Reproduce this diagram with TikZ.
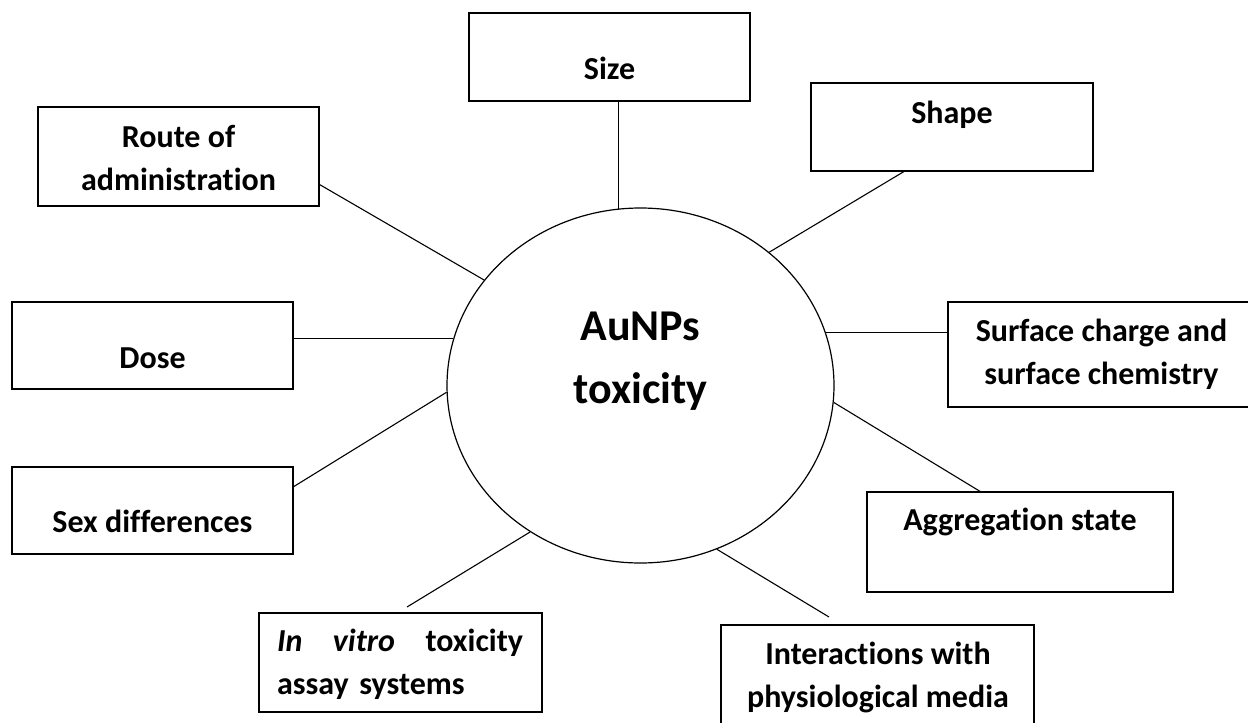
\documentclass[tikz,border=0pt]{standalone}
\usepackage{fontspec}
\setmainfont{Carlito}[Ligatures=NoCommon]
\usetikzlibrary{shapes.geometric,calc}

\begin{document}
\begin{tikzpicture}[x=1pt,y=-1pt,
  factor/.style={draw,line width=1.2pt,rectangle,inner sep=0pt},
  flabel/.style={font=\fontsize{32}{43}\selectfont\bfseries,align=center,anchor=base,inner sep=0pt},
  link/.style={line width=1.1pt}]
\useasboundingbox (0,0) rectangle (1248,723);
\clip (0,0) rectangle (1248,723);

% centre
\node [draw,ellipse,line width=1.2pt,minimum width=387pt,minimum height=355pt,inner sep=0pt] (tox) at (640.5,385.5) {};
\node [font=\fontsize{44}{63}\selectfont\bfseries,align=center,anchor=base,inner sep=0pt] (toxt) at (640.5,403.3) {AuNPs\\toxicity};

% factors (multi-line labels sit on their last baseline)
\node [factor,minimum width=281pt,minimum height=88pt] (size) at (609.5,57) {};
\node [flabel] (sizet) at (609.5,79.3) {Size};
\node [factor,minimum width=282pt,minimum height=88pt] (shape) at (952,127) {};
\node [flabel] (shapet) at (952,123) {Shape};
\node [factor,minimum width=281pt,minimum height=99pt] (route) at (178.5,156.5) {};
\node [flabel] (routet) at (178.5,190) {Route of\\administration};
\node [factor,minimum width=281pt,minimum height=87pt] (dose) at (152.5,345.5) {};
\node [flabel] (doset) at (152.5,368.3) {Dose};
\node [factor,minimum width=281pt,minimum height=87pt] (sex) at (152.5,510.5) {};
\node [flabel] (sext) at (152.5,532.3) {Sex differences};
\node [factor,minimum width=307pt,minimum height=105pt] (surface) at (1101.5,354.5) {};
\node [flabel] (surfacet) at (1101.5,384) {Surface charge and\\surface chemistry};
\node [factor,minimum width=306pt,minimum height=100pt] (aggr) at (1020,542) {};
\node [flabel] (aggrt) at (1020,530) {Aggregation state};
\node [factor,minimum width=283pt,minimum height=99pt] (vitro) at (400.5,662.5) {};
\node [flabel,align=left,text width=246pt] (vitrot) at (400,651.7) {\textit{In}\hfill\textit{vitro}\hfill toxicity\\assay systems};
\node [factor,minimum width=313pt,minimum height=110pt] (inter) at (877.5,680) {};
\node [flabel] (intert) at (878,707.3) {Interactions with\\physiological media};

% links
\coordinate (vitroend) at (407,607);
\coordinate (interend) at (829,617);
\draw [link] (tox.97.6) -- (tox.97.6 |- size.south);
\draw [link] (tox.46.5) -- ($(shape.south west)!0.33!(shape.south east)$);
\draw [link] (tox.146.3) -- ($(route.south east)!0.22!(route.north east)$);
\draw [link] (tox.166.6) -- (tox.166.6 -| dose.east);
\draw [link] (tox.182.8) -- ($(sex.south east)!0.77!(sex.north east)$);
\draw [link] (tox.16.5) -- (tox.16.5 -| surface.west);
\draw [link] (tox.-5.8) -- ($(aggr.north west)!0.37!(aggr.north east)$);
\draw [link] (tox.233.3) -- (vitroend);
\draw [link] (tox.295.4) -- (interend);

\end{tikzpicture}
\end{document}
